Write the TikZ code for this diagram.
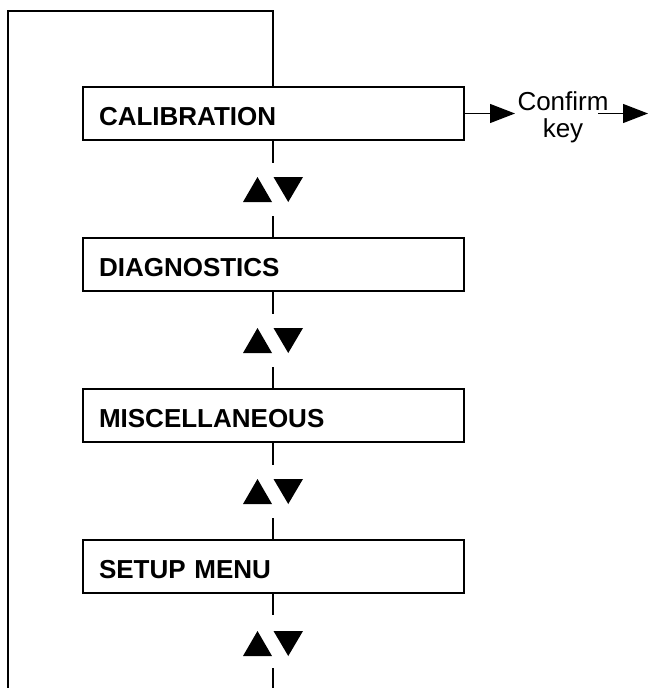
\documentclass[tikz,border=0pt]{standalone}
\usepackage{fontspec}
\setmainfont{Liberation Sans}
\usetikzlibrary{arrows.meta}
\tikzset{
  menubox/.style={draw, line width=2pt, minimum width=381pt, minimum height=53pt,
    inner xsep=16pt, inner ysep=0pt, text width=349pt, align=left,
    text height=23pt, text depth=0pt,
    font=\bfseries\fontsize{26}{30}\selectfont},
  thin/.style={line width=1.2pt},
  tip/.style={-{Triangle[length=25pt,width=19pt]}},
  tri/.style={fill=black}
}
\begin{document}
\begin{tikzpicture}[x=1pt,y=-1pt]
\useasboundingbox (0,0) rectangle (648,688);
\node[menubox] (cal)   at (273.5,113.5) {CALIBRATION};
\node[menubox] (diag)  at (273.5,264.5) {DIAGNOSTICS};
\node[menubox] (misc)  at (273.5,415.5) {MISCELLANEOUS};
\node[menubox] (setup) at (273.5,566.5) {SETUP MENU};
\node[align=center, inner sep=1pt, font=\fontsize{26}{27}\selectfont] (conf) at (563,117) {Confirm\\key};
% loop
\coordinate (tr) at (273,11);
\coordinate (tl) at (8,11);
\coordinate (bl) at (8,688);
\coordinate (br) at (273,688);
\draw[thin] (cal.north -| tr) -- (tr) -- (tl) -- (bl);
% gaps
\foreach \a/\b/\B in {cal/diag/140, diag/misc/291, misc/setup/442} {
  \coordinate (ga) at (273,\B+23);
  \coordinate (gb) at (273,\B+76);
  \draw[thin] (\a.south -| ga) -- (ga);
  \draw[thin] (gb) -- (\b.north -| gb);
  \fill[tri] (243,\B+62) -- (257.5,\B+37) -- (272,\B+62) -- cycle;
  \fill[tri] (273.5,\B+37) -- (303,\B+37) -- (288.25,\B+62) -- cycle;
}
\coordinate (ga) at (273,615);
\coordinate (gb) at (273,668);
\draw[thin] (setup.south -| ga) -- (ga);
\draw[thin] (gb) -- (br);
\fill[tri] (243,656) -- (257.5,631) -- (272,656) -- cycle;
\fill[tri] (273.5,631) -- (303,631) -- (288.25,656) -- cycle;
% confirm arrows
\coordinate (c1e) at (515,113.5);
\coordinate (c2s) at (598,113.5);
\coordinate (c2e) at (648,113.5);
\draw[thin,tip] (cal.east) -- (c1e);
\draw[thin,tip] (c2s) -- (c2e);
\end{tikzpicture}
\end{document}
